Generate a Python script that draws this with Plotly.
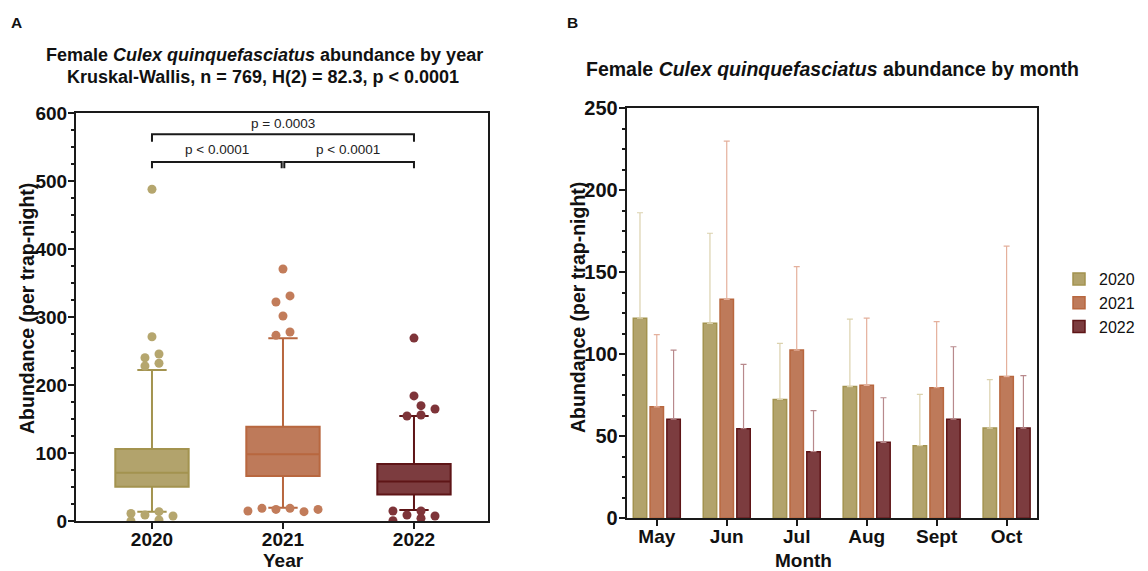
import plotly.graph_objects as go

# page is drawn inside the browser's default 8px body margin
OFF = 8
FW, FH = 1148 - 2 * OFF, 571 - OFF

# ---------------- Panel A data (box plot by year) ----------------
years = ["2020", "2021", "2022"]
box_q1 = [50.5, 66.0, 39.0]
box_median = [71.0, 98.0, 58.0]
box_q3 = [106.0, 138.7, 84.0]
box_lower = [13.7, 19.6, 16.0]
box_upper = [222.0, 268.6, 154.4]

out_2020 = [487.8, 271.0, 245.6, 240.0, 232.0, 228.0, 13.7, 11.0, 8.8, 7.4, 1.5, 0.0]
out_2021 = [370.6, 331.0, 322.0, 301.5, 278.0, 273.0, 14.7, 18.6, 17.0, 18.6, 13.7, 17.0]
out_2022 = [269.0, 184.0, 169.6, 164.7, 154.4, 155.9, 14.7, 8.8, 14.7, 7.4, 0.4, 4.0]
outliers = [out_2020, out_2021, out_2022]

# horizontal spread of the outlier dots (in half dot-spacing steps)
spread_2020 = [0, 0, 1, -1, 1, -1, 1, -3, -1, 3, 1, -3]
spread_2021 = [0, 1, -1, 0, 1, -1, -5, -3, -1, 1, 3, 5]
spread_2022 = [0, 0, 1, 3, -1, 1, -3, -1, 1, 3, -3, 1]
spreads = [spread_2020, spread_2021, spread_2022]

comparisons = [("2020", "2022", "p = 0.0003"),
               ("2020", "2021", "p < 0.0001"),
               ("2021", "2022", "p < 0.0001")]

# ---------------- Panel B data (bar chart by month) ----------------
months = ["May", "Jun", "Jul", "Aug", "Sept", "Oct"]
mean_2020 = [122.0, 118.9, 72.5, 80.3, 44.3, 55.0]
mean_2021 = [68.0, 133.5, 102.6, 81.1, 79.6, 86.4]
mean_2022 = [60.4, 54.6, 40.6, 46.3, 60.4, 55.0]
sd_2020 = [64.3, 54.9, 34.2, 41.2, 31.3, 29.5]
sd_2021 = [44.0, 96.5, 50.8, 40.9, 40.3, 79.6]
sd_2022 = [42.2, 39.3, 25.0, 27.2, 44.2, 32.0]

# ---------------- styles ----------------
fill_cols = ["#B2A36C", "#BE7A5A", "#7C3C3F"]
edge_cols = ["#A3934F", "#B8673F", "#5E1517"]
dot_cols = ["#B5A66E", "#C27C5A", "#7E3439"]
err_cols = ["#DCD2AE", "#E4B09C", "#B8898C"]
FONT = "Liberation Sans, Arial, sans-serif"
AX = "#1a1a1a"


def px(x):
    return (x - OFF) / FW


def py(y):
    return 1 - (y - OFF) / FH


fig = go.Figure()

# Panel A boxes
for i, yr in enumerate(years):
    fig.add_trace(go.Box(
        x=[i], q1=[box_q1[i]], median=[box_median[i]], q3=[box_q3[i]],
        lowerfence=[box_lower[i]], upperfence=[box_upper[i]],
        width=0.56, whiskerwidth=0.4, fillcolor=fill_cols[i],
        line=dict(color=edge_cols[i], width=2), boxpoints=False,
        showlegend=False, xaxis="x", yaxis="y", name=yr))
    step = 0.0535
    fig.add_trace(go.Scatter(
        x=[i + s * step for s in spreads[i]], y=outliers[i], mode="markers",
        marker=dict(size=9, color=dot_cols[i], line=dict(width=0)),
        showlegend=False, xaxis="x", yaxis="y", hoverinfo="y"))

# Panel B bars
means = [mean_2020, mean_2021, mean_2022]
sds = [sd_2020, sd_2021, sd_2022]
for i, yr in enumerate(years):
    fig.add_trace(go.Bar(
        x=months, y=means[i], name=yr,
        marker=dict(color=fill_cols[i], line=dict(color=edge_cols[i], width=1.5)),
        error_y=dict(type="data", array=sds[i], arrayminus=[0] * len(months),
                     symmetric=False, color=err_cols[i], thickness=1.2, width=3),
        xaxis="x2", yaxis="y2"))

# significance brackets
shapes = []
annotations = []
bracket_levels = {("2020", "2022"): (568.7, 557.8, 585.0),
                  ("2020", "2021"): (528.0, 518.7, 545.6),
                  ("2021", "2022"): (528.0, 518.7, 545.6)}
for a, b, label in comparisons:
    ia, ib = years.index(a), years.index(b)
    ytop, yend, ytext = bracket_levels[(a, b)]
    xa, xb = ia, ib
    if ib - ia == 1:
        xa, xb = (ia, ib - 0.01) if ia == 0 else (ia + 0.01, ib)
    shapes.append(dict(type="path", xref="x", yref="y",
                       path=f"M {xa},{yend} L {xa},{ytop} L {xb},{ytop} L {xb},{yend}",
                       line=dict(color=AX, width=2)))
    annotations.append(dict(x=(ia + ib) / 2, y=ytext, xref="x", yref="y", text=label,
                            showarrow=False, font=dict(size=13.5, color="#222", family=FONT)))


def ann(x, y, text, size, angle=0):
    annotations.append(dict(x=px(x), y=py(y), xref="paper", yref="paper", text=text,
                            showarrow=False, textangle=angle,
                            font=dict(size=size, color="#111", family=FONT),
                            xanchor="center", yanchor="middle"))


ann(16.5, 22.5, "<b>A</b>", 15.5)
ann(572, 22.5, "<b>B</b>", 15.5)
ann(264, 55, "<b>Female <i>Culex quinquefasciatus</i> abundance by year</b>", 18)
ann(263, 77, "<b>Kruskal-Wallis, n = 769, H(2) = 82.3, p &lt; 0.0001</b>", 18)
ann(832, 69, "<b>Female <i>Culex quinquefasciatus</i> abundance by month</b>", 19.5)
ann(27, 309, "<b>Abundance (per trap-night)</b>", 19.5, angle=-90)
ann(578, 308, "<b>Abundance (per trap-night)</b>", 19.5, angle=-90)
ann(283, 560.5, "<b>Year</b>", 19)
ann(803, 560.5, "<b>Month</b>", 19)

axis_common = dict(showline=True, linewidth=2, linecolor=AX, mirror=True,
                   ticks="outside", tickwidth=2, tickcolor=AX, ticklen=6,
                   showgrid=False, zeroline=False, automargin=False,
                   tickfont=dict(size=19, color="#111", family=FONT, weight="bold"))
xaxis_extra = dict(ticklabelstandoff=-6)
yaxis_extra = dict(ticklabelstandoff=-3)

fig.update_layout(
    width=FW, height=FH, margin=dict(l=0, r=0, t=0, b=0, pad=0), autosize=False,
    paper_bgcolor="white", plot_bgcolor="white",
    font=dict(family=FONT),
    barmode="group", bargap=0.28, bargroupgap=0.2,
    xaxis=dict(domain=[px(76), px(488)], range=[-0.58, 2.565], tickvals=[0, 1, 2],
               ticktext=years, anchor="y", **axis_common, **xaxis_extra),
    yaxis=dict(domain=[py(521), py(113)], range=[0, 600], dtick=100, anchor="x",
               minor=dict(dtick=25, ticks="outside", ticklen=3, tickwidth=1.5, tickcolor=AX),
               **axis_common, **yaxis_extra),
    xaxis2=dict(domain=[px(626.7), px(1036.7)], range=[-0.43, 5.43], type="category",
                anchor="y2", **axis_common, **xaxis_extra),
    yaxis2=dict(domain=[py(518.3), py(108.3)], range=[0, 250], dtick=50, anchor="x2",
                minor=dict(dtick=12.5, ticks="outside", ticklen=3, tickwidth=1.5, tickcolor=AX),
                **{**axis_common, "tickfont": dict(size=20, color="#111", family=FONT, weight="bold")},
                **yaxis_extra),
    legend=dict(x=px(1059), y=py(303), xanchor="left", yanchor="middle",
                font=dict(size=16, color="#111", family=FONT), traceorder="normal",
                bgcolor="rgba(0,0,0,0)"),
    shapes=shapes, annotations=annotations,
)

fig.write_html("out.html")
